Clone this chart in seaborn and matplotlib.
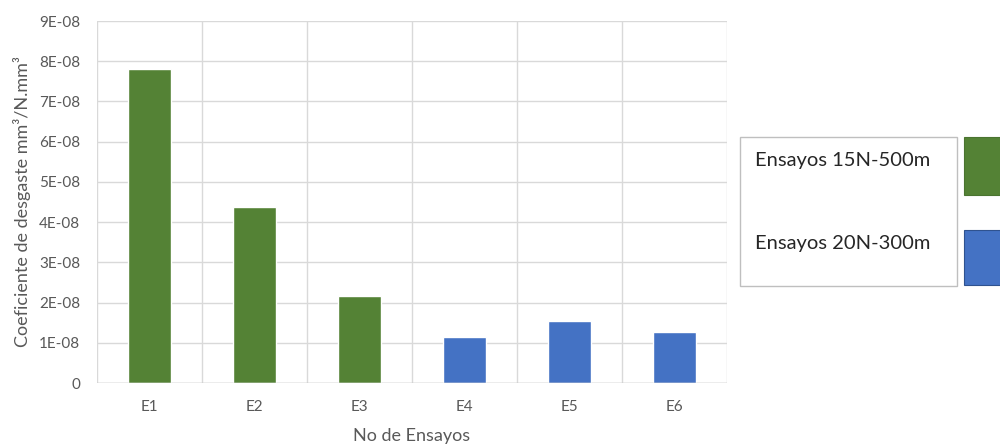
import matplotlib
matplotlib.use("Agg")
import matplotlib.pyplot as plt
from matplotlib.patches import Rectangle
from matplotlib.ticker import FuncFormatter, MultipleLocator
import pandas as pd
import seaborn as sns

# chart data
ensayos = ["E1", "E2", "E3", "E4", "E5", "E6"]
coeficiente = [7.80e-08, 4.38e-08, 2.16e-08, 1.15e-08, 1.54e-08, 1.26e-08]
grupo = ["Ensayos 15N-500m"] * 3 + ["Ensayos 20N-300m"] * 3
series_names = ["Ensayos 15N-500m", "Ensayos 20N-300m"]
y_ticks = [i * 1e-08 for i in range(10)]

GREEN = "#548235"
BLUE = "#4472C4"
GRID = "#d9d9d9"
TEXT = "#595959"


def fmt_sci(v, pos=None):
    if abs(v) < 1e-20:
        return "0"
    return f"{v:.0E}"


def main():
    sns.set_style("white")
    plt.rcParams["font.family"] = ["Lato", "DejaVu Sans"]

    df = pd.DataFrame({"ensayo": ensayos, "valor": coeficiente, "grupo": grupo})

    fig = plt.figure(figsize=(10, 4.48), dpi=100)
    ax = fig.add_axes([0.097, 0.145, 0.630, 0.808])

    sns.barplot(data=df, x="ensayo", y="valor", hue="grupo",
                palette={series_names[0]: GREEN, series_names[1]: BLUE},
                saturation=1, dodge=False, width=0.41, legend=False, ax=ax, zorder=3)

    ax.set_xlim(-0.5, 5.5)
    ax.set_ylim(0, 9e-08)
    ax.set_yticks(y_ticks)
    ax.yaxis.set_major_formatter(FuncFormatter(fmt_sci))
    ax.xaxis.set_minor_locator(MultipleLocator(1, offset=0.5))
    ax.grid(True, axis="y", color=GRID, lw=1, zorder=0)
    ax.grid(True, axis="x", which="minor", color=GRID, lw=1, zorder=0)
    ax.grid(False, axis="x", which="major")
    ax.set_axisbelow(True)
    for s in ax.spines.values():
        s.set_visible(False)
    ax.axhline(0, color="#bfbfbf", lw=1, zorder=4)

    ax.tick_params(axis="both", which="both", length=0, colors=TEXT, labelsize=11)
    ax.tick_params(axis="y", pad=12)
    ax.tick_params(axis="x", pad=12)
    ax.set_xlabel("No de Ensayos", color=TEXT, fontsize=13, labelpad=10)
    ax.set_ylabel("Coeficiente de desgaste mm³/N.mm³", color=TEXT, fontsize=13, labelpad=6)

    # legend drawn as in the original (text box with colour blocks beside it)
    fig.patches.append(Rectangle((0.740, 0.362), 0.217, 0.332, transform=fig.transFigure,
                                 facecolor="white", edgecolor="#bfbfbf", lw=1))
    fig.patches.append(Rectangle((0.964, 0.565), 0.05, 0.129, transform=fig.transFigure,
                                 facecolor=GREEN, edgecolor="#4a7430", lw=0.8))
    fig.patches.append(Rectangle((0.964, 0.364), 0.05, 0.123, transform=fig.transFigure,
                                 facecolor=BLUE, edgecolor="#2f528f", lw=0.8))
    fig.text(0.755, 1 - 160 / 448, series_names[0], fontsize=14.5, color="#262626", va="center")
    fig.text(0.755, 1 - 243 / 448, series_names[1], fontsize=14.5, color="#262626", va="center")

    fig.savefig("out.png", dpi=100)


if __name__ == "__main__":
    main()
